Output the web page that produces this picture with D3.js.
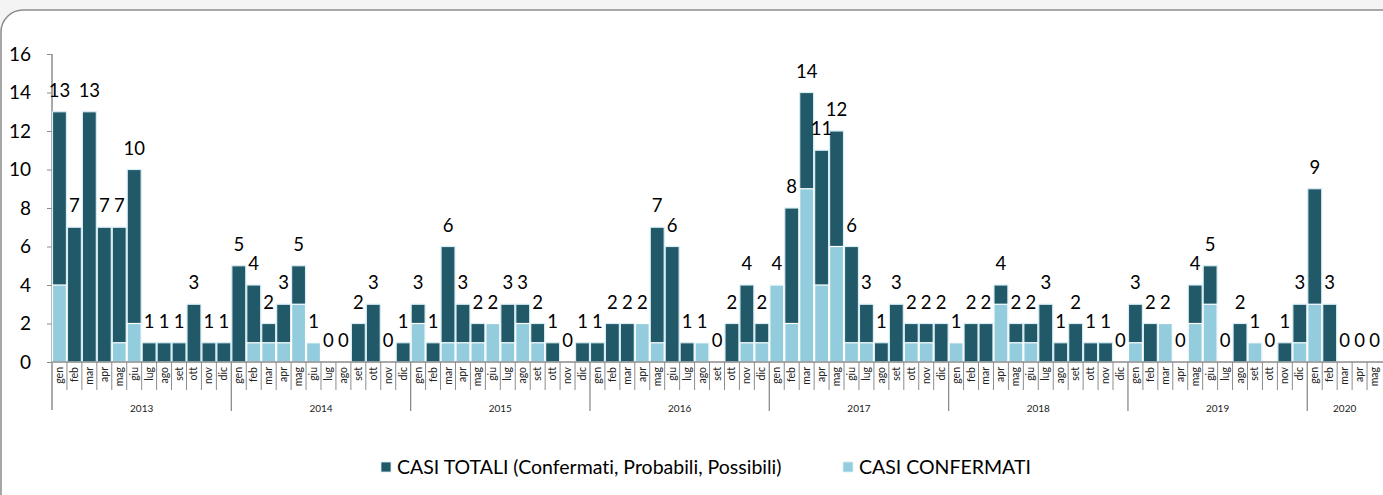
<!DOCTYPE html>
<html><head><meta charset="utf-8">
<script src="https://cdn.jsdelivr.net/npm/d3@7"></script>
<style>
html,body{margin:0;padding:0;background:#f4f4f4;}
svg{display:block;}
text{font-family:Lato,"Open Sans",sans-serif;font-variant-ligatures:none;font-feature-settings:"liga" 0;}
</style></head>
<body>
<svg id="c" width="1383" height="495"></svg>
<script>
const years = ["2013","2014","2015","2016","2017","2018","2019","2020"];
const monthNames = ["gen","feb","mar","apr","mag","giu","lug","ago","set","ott","nov","dic"];
const yTicks = [0,2,4,6,8,10,12,14,16];
const totali = [
  13,7,13,7,7,10,1,1,1,3,1,1,
  5,4,2,3,5,1,0,0,2,3,0,1,
  3,1,6,3,2,2,3,3,2,1,0,1,
  1,2,2,2,7,6,1,1,0,2,4,2,
  4,8,14,11,12,6,3,1,3,2,2,2,
  1,2,2,4,2,2,3,1,2,1,1,0,
  3,2,2,0,4,5,0,2,1,0,1,3,
  9,3,0,0,0
];
const confermati = [
  4,0,0,0,1,2,0,0,0,0,0,0,
  0,1,1,1,3,1,0,0,0,0,0,0,
  2,0,1,1,1,2,1,2,1,0,0,0,
  0,0,0,2,1,0,0,1,0,0,1,1,
  4,2,9,4,6,1,1,0,0,1,1,0,
  1,0,0,3,1,1,0,0,0,0,0,0,
  1,0,2,0,2,3,0,0,1,0,0,1,
  3,0,0,0,0
];
const legendLabels = ["CASI TOTALI (Confermati, Probabili, Possibili)","CASI CONFERMATI"];
const colors = ["#215968","#93CDDD"];

const data = totali.map((t,i)=>({i, t, c: confermati[i], m: monthNames[i%12], y: years[Math.floor(i/12)]}));

const svg = d3.select("#c");
// frame
svg.append("rect").attr("x",1).attr("y",10).attr("width",1420).attr("height",520)
  .attr("rx",22).attr("fill","#fff").attr("stroke","#8c8c8c").attr("stroke-width",1.5);

const x0 = 52, x1 = 1382, y0 = 362, yTop = 54;
const x = d3.scaleBand().domain(data.map(d=>d.i)).range([x0,x1]).paddingInner(0).paddingOuter(0);
const y = d3.scaleLinear().domain([0,16]).range([y0,yTop]);

// y axis
const ya = svg.append("g").attr("transform",`translate(${x0},0)`).call(d3.axisLeft(y).tickValues(yTicks).tickSize(5).tickPadding(16));
ya.select(".domain").remove();
ya.selectAll("line").attr("stroke","#8c8c8c");
ya.selectAll("text").attr("font-size","19px").attr("fill","#000").style("font-family","Lato,sans-serif");
svg.append("line").attr("x1",x0).attr("x2",x0).attr("y1",yTop).attr("y2",410).attr("stroke","#8c8c8c").attr("stroke-width",1.5);

// bars
const bw = x.bandwidth();
svg.append("g").selectAll("rect").data(data.filter(d=>d.t>0)).join("rect")
  .attr("x",d=>x(d.i)+0.5).attr("width",bw-1)
  .attr("y",d=>y(d.t)).attr("height",d=>y0-y(d.t))
  .attr("fill",colors[0]).attr("stroke","#d8eef4").attr("stroke-width",1.2);
svg.append("g").selectAll("rect").data(data.filter(d=>d.c>0)).join("rect")
  .attr("x",d=>x(d.i)+0.5).attr("width",bw-1)
  .attr("y",d=>y(d.c)).attr("height",d=>y0-y(d.c))
  .attr("fill",colors[1]).attr("stroke","#ffffff").attr("stroke-width",1.2);

// x axis line
svg.append("line").attr("x1",x0).attr("x2",x1+3).attr("y1",y0).attr("y2",y0).attr("stroke","#8c8c8c").attr("stroke-width",1.5);

// month separators
const sep = svg.append("g");
data.forEach(d=>{
  if (d.i===0) return;
  const xx = x(d.i);
  const yearStart = d.i%12===0;
  sep.append("line").attr("x1",xx).attr("x2",xx).attr("y1",y0).attr("y2",yearStart?411:390)
    .attr("stroke","#8c8c8c").attr("stroke-width",yearStart?1.3:1);
});

// month labels
svg.append("g").selectAll("text").data(data).join("text")
  .attr("transform",d=>`translate(${x(d.i)+bw/2+3.5},367) rotate(-90)`)
  .attr("text-anchor","end").attr("font-size","10.5px").attr("fill","#222")
  .text(d=>d.m);

// year labels
years.forEach((yr,k)=>{
  const idx = data.filter(d=>d.y===yr).map(d=>d.i);
  const cx = (x(idx[0]) + x(idx[idx.length-1]) + bw)/2;
  svg.append("text").attr("x",cx).attr("y",412).attr("text-anchor","middle")
    .attr("font-size","10px").attr("fill","#222").text(yr);
});

// value labels
svg.append("g").selectAll("text").data(data).join("text")
  .attr("x",d=>x(d.i)+bw/2).attr("y",d=>y(d.t)-15)
  .attr("text-anchor","middle").attr("font-size","18.5px").attr("fill","#000")
  .text(d=>d.t);

// legend
const lg = svg.append("g");
const lx = [381, 843];
legendLabels.forEach((lab,k)=>{
  lg.append("rect").attr("x",lx[k]).attr("y",462).attr("width",10).attr("height",10)
    .attr("fill",colors[k]).attr("stroke","#d8eef4").attr("stroke-width",0.8);
  lg.append("text").attr("x",lx[k]+16).attr("y",474).attr("font-size","19.5px").attr("fill","#000").text(lab);
});
</script>
</body></html>
